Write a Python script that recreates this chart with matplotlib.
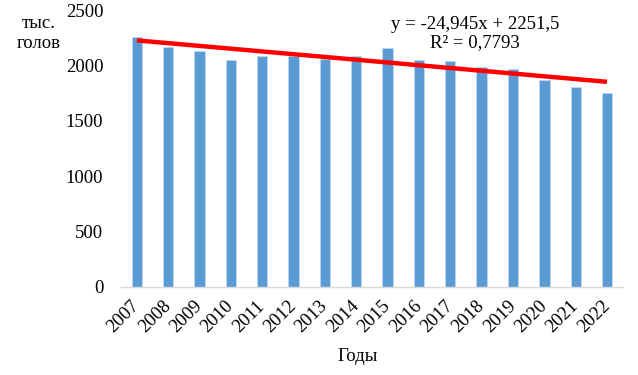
import matplotlib
matplotlib.use("Agg")
import matplotlib.pyplot as plt
import matplotlib.transforms as mtransforms
import numpy as np


# Data
years = ["2007", "2008", "2009", "2010", "2011", "2012", "2013", "2014",
         "2015", "2016", "2017", "2018", "2019", "2020", "2021", "2022"]
heads = [2257, 2170, 2133, 2052, 2088, 2083, 2062, 2088,
         2160, 2052, 2043, 1990, 1970, 1872, 1810, 1755]
trend_slope = -24.945
trend_intercept = 2251.5
trend_text = "y = -24,945x + 2251,5\nR² = 0,7793"

plt.rcParams['font.family'] = ['Liberation Serif', 'DejaVu Serif']

fig = plt.figure(figsize=(6.38, 3.75), dpi=100)
ax = fig.add_axes([0.19, 0.235, 0.786, 0.738])

x = np.arange(len(years))
ax.bar(x, heads, width=0.33, color='#5B9BD5', edgecolor='#BDD7EE', linewidth=0.6, zorder=2)

# Linear trend (Excel numbering x = 1..n)
n = np.arange(1, len(years) + 1)
ax.plot(x, trend_slope * n + trend_intercept, color='#FF0000', linewidth=3.2,
        solid_capstyle='butt', zorder=3)

ax.set_xlim(-0.5, len(years) - 0.5)
ax.set_ylim(0, 2500)
ax.set_yticks([0, 500, 1000, 1500, 2000, 2500])
ax.set_xticks(x)
ax.set_xticklabels(years, rotation=45, ha='right', va='center', rotation_mode='anchor')

# nudge rotated year labels a little to the left
shift = mtransforms.ScaledTranslation(-4 / 72, 0, fig.dpi_scale_trans)
for lbl in ax.get_xticklabels():
    lbl.set_transform(lbl.get_transform() + shift)

for side in ['left', 'right', 'top']:
    ax.spines[side].set_visible(False)
ax.spines['bottom'].set_color('#D9D9D9')
ax.spines['bottom'].set_linewidth(1.0)

ax.tick_params(axis='y', length=0, pad=13, labelsize=13.5)
ax.tick_params(axis='x', length=0, pad=12, labelsize=13.5)

ax.text(0.705, 0.915, trend_text, transform=ax.transAxes, ha='center', va='center',
        fontsize=13.5, linespacing=1.12)

fig.text(0.06, 0.91, "тыс.\nголов", ha='center', va='center', fontsize=13.5, linespacing=1.25)
fig.text(0.561, 0.05, "Годы", ha='center', va='center', fontsize=13.5)

fig.savefig("out.png", dpi=100)
